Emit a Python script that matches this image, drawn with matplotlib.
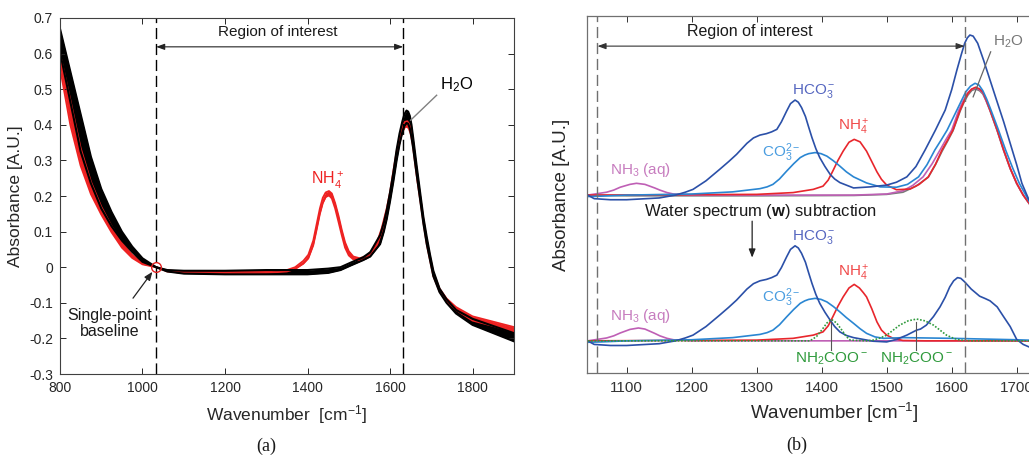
import numpy as np
import matplotlib
matplotlib.use('Agg')
import matplotlib.pyplot as plt

plt.rcParams['font.family'] = ['Liberation Sans', 'DejaVu Sans']
plt.rcParams['mathtext.fontset'] = 'custom'
plt.rcParams['mathtext.rm'] = 'Liberation Sans'
plt.rcParams['mathtext.it'] = 'Liberation Sans:italic'
plt.rcParams['mathtext.bf'] = 'Liberation Sans:bold'
plt.rcParams['mathtext.default'] = 'rm'

# ---------------- (a) raw spectra, single-point baseline at 1033 cm-1 ----------------
wn_a = [800, 825, 850, 875, 900, 925, 950, 975, 1000, 1033, 1060, 1100, 1200, 1300,
        1400, 1450, 1480, 1505, 1535, 1552, 1576, 1585, 1592, 1600, 1608, 1616, 1623, 1630,
        1635, 1640, 1644, 1648, 1652, 1656, 1664, 1673, 1681, 1689, 1697, 1705, 1720, 1737,
        1760, 1800, 1850, 1900]
water_hi = [0.67, 0.55, 0.43, 0.31, 0.22, 0.155, 0.10, 0.058, 0.025, 0.0, -0.008, -0.010,
            -0.010, -0.008, -0.008, -0.004, 0.0, 0.013, 0.028, 0.042, 0.09, 0.125, 0.16,
            0.21, 0.265, 0.33, 0.375, 0.41, 0.43, 0.44, 0.437, 0.425, 0.40, 0.365, 0.29,
            0.21, 0.14, 0.085, 0.035, -0.01, -0.06, -0.09, -0.12, -0.145, -0.165, -0.185]
water_lo = [0.605, 0.465, 0.325, 0.235, 0.165, 0.115, 0.075, 0.043, 0.015, 0.0, -0.012,
            -0.018, -0.020, -0.020, -0.020, -0.016, -0.008, 0.005, 0.02, 0.03, 0.065, 0.10,
            0.135, 0.185, 0.24, 0.30, 0.345, 0.38, 0.397, 0.405, 0.403, 0.39, 0.365, 0.335,
            0.265, 0.19, 0.122, 0.065, 0.02, -0.025, -0.07, -0.10, -0.13, -0.162, -0.185,
            -0.208]

wn_r = [800, 825, 850, 875, 900, 925, 950, 975, 1000, 1033, 1060, 1100, 1200, 1300, 1350,
        1370, 1390, 1402, 1414, 1422, 1430, 1437, 1444, 1452, 1459, 1467, 1475, 1483, 1491,
        1500, 1511, 1527, 1543, 1555, 1568, 1580, 1592, 1600, 1608, 1616, 1623, 1630, 1636,
        1642, 1646, 1650, 1655, 1660, 1666, 1673, 1681, 1689, 1697, 1705, 1720, 1737, 1760,
        1800, 1850, 1900]
nh4_hi = [0.60, 0.47, 0.335, 0.24, 0.17, 0.115, 0.07, 0.035, 0.012, 0.0, -0.009, -0.012,
          -0.014, -0.012, -0.008, 0.0, 0.018, 0.035, 0.075, 0.12, 0.165, 0.195, 0.21, 0.214,
          0.207, 0.18, 0.145, 0.105, 0.07, 0.045, 0.03, 0.025, 0.032, 0.045, 0.068, 0.11,
          0.165, 0.21, 0.27, 0.325, 0.365, 0.395, 0.408, 0.41, 0.403, 0.39, 0.36, 0.315,
          0.26, 0.20, 0.135, 0.075, 0.03, -0.015, -0.06, -0.088, -0.112, -0.138, -0.153,
          -0.168]
nh4_lo = [0.56, 0.40, 0.285, 0.205, 0.148, 0.098, 0.055, 0.026, 0.008, 0.0, -0.012, -0.016,
          -0.018, -0.016, -0.012, -0.005, 0.010, 0.025, 0.062, 0.105, 0.15, 0.18, 0.197,
          0.202, 0.193, 0.165, 0.128, 0.09, 0.055, 0.033, 0.022, 0.018, 0.025, 0.038, 0.06,
          0.10, 0.15, 0.195, 0.25, 0.31, 0.35, 0.38, 0.393, 0.395, 0.388, 0.375, 0.345, 0.30,
          0.245, 0.19, 0.125, 0.065, 0.02, -0.025, -0.068, -0.095, -0.12, -0.15, -0.165,
          -0.182]

roi_a = [1033, 1632]

# ---------------- (b) component spectra, before and after water subtraction ----------------
wn_hco3 = [1040, 1050, 1075, 1100, 1150, 1175, 1190, 1202, 1222, 1243, 1257, 1269, 1285,
           1295, 1305, 1315, 1323, 1331, 1338, 1346, 1352, 1359, 1364, 1369, 1375, 1380,
           1385, 1391, 1397, 1405, 1413, 1420, 1428, 1438, 1449, 1479, 1500, 1515, 1531,
           1546, 1552, 1561, 1572, 1582, 1590, 1597, 1603, 1609, 1614, 1620, 1630, 1643,
           1652, 1659, 1670, 1679, 1690, 1700, 1710, 1719, 1740, 1770, 1800]
hco3_sub = [0.0, -0.010, -0.013, -0.013, -0.008, 0.0, 0.008, 0.016, 0.04, 0.072, 0.094,
            0.114, 0.145, 0.160, 0.168, 0.172, 0.177, 0.184, 0.205, 0.235, 0.256, 0.266,
            0.26, 0.245, 0.22, 0.19, 0.161, 0.13, 0.105, 0.08, 0.058, 0.04, 0.025, 0.015,
            0.009, -0.001, -0.003, 0.004, 0.016, 0.03, 0.033, 0.044, 0.068, 0.095, 0.122,
            0.151, 0.168, 0.177, 0.175, 0.165, 0.145, 0.125, 0.118, 0.112, 0.095, 0.07, 0.04,
            0.004, -0.01, -0.017, -0.03, -0.035, -0.035]

wn_hco3_raw = [1040, 1050, 1075, 1100, 1150, 1175, 1190, 1202, 1222, 1243, 1257, 1269,
               1285, 1295, 1305, 1315, 1323, 1331, 1338, 1346, 1352, 1359, 1364, 1369, 1375,
               1380, 1385, 1391, 1397, 1405, 1413, 1420, 1428, 1449, 1475, 1500, 1515, 1531,
               1545, 1559, 1575, 1590, 1600, 1608, 1615, 1620, 1624, 1628, 1633, 1640, 1649,
               1659, 1669, 1680, 1690, 1700, 1708, 1719, 1740, 1770, 1800]
hco3_raw = [0.0, -0.010, -0.013, -0.013, -0.008, 0.0, 0.008, 0.016, 0.04, 0.072, 0.094,
            0.114, 0.145, 0.160, 0.168, 0.172, 0.177, 0.184, 0.205, 0.235, 0.256, 0.266,
            0.26, 0.245, 0.22, 0.19, 0.161, 0.13, 0.105, 0.08, 0.058, 0.045, 0.035, 0.02,
            0.023, 0.028, 0.036, 0.051, 0.08, 0.126, 0.182, 0.238, 0.295, 0.35, 0.395, 0.425,
            0.44, 0.448, 0.445, 0.425, 0.378, 0.322, 0.266, 0.205, 0.145, 0.085, 0.033,
            -0.014, -0.04, -0.05, -0.055]

wn_co3 = [1040, 1060, 1100, 1200, 1263, 1305, 1316, 1325, 1335, 1346, 1357, 1367, 1374,
          1380, 1390, 1399, 1408, 1418, 1428, 1438, 1449, 1459, 1469, 1482, 1495, 1526, 1600,
          1650, 1700, 1750, 1800]
co3_sub = [-0.004, -0.003, 0.0, 0.003, 0.009, 0.018, 0.023, 0.03, 0.045, 0.067, 0.088,
           0.105, 0.112, 0.116, 0.119, 0.116, 0.109, 0.096, 0.081, 0.065, 0.049, 0.034,
           0.021, 0.011, 0.007, 0.009, 0.007, 0.005, 0.003, 0.0, 0.0]

wn_co3_raw = [1040, 1060, 1100, 1200, 1263, 1305, 1316, 1325, 1335, 1346, 1357, 1367, 1374,
              1380, 1390, 1399, 1408, 1418, 1428, 1438, 1449, 1469, 1490, 1515, 1532, 1549,
              1562, 1574, 1584, 1593, 1608, 1616, 1622, 1629, 1636, 1642, 1648, 1654, 1660,
              1672, 1683, 1694, 1704, 1714, 1720, 1740, 1770, 1800]
co3_raw = [-0.004, -0.003, 0.0, 0.003, 0.009, 0.018, 0.023, 0.03, 0.045, 0.067, 0.088,
           0.105, 0.112, 0.116, 0.119, 0.116, 0.109, 0.096, 0.081, 0.065, 0.051, 0.034,
           0.023, 0.022, 0.03, 0.051, 0.085, 0.126, 0.155, 0.182, 0.238, 0.268, 0.29, 0.305,
           0.313, 0.308, 0.292, 0.268, 0.24, 0.182, 0.126, 0.075, 0.033, 0.0, -0.02, -0.045,
           -0.055, -0.06]

wn_nh4 = [1040, 1300, 1356, 1387, 1402, 1410, 1417, 1425, 1433, 1442, 1450, 1458, 1464,
          1469, 1477, 1485, 1492, 1500, 1510, 1525, 1560, 1800]
nh4_sub = [0.0, 0.002, 0.007, 0.016, 0.025, 0.042, 0.067, 0.097, 0.123, 0.148, 0.158, 0.148,
           0.135, 0.123, 0.09, 0.053, 0.03, 0.016, 0.007, 0.001, 0.0, 0.0]

wn_nh4_raw = [1040, 1300, 1356, 1387, 1402, 1410, 1417, 1425, 1433, 1442, 1450, 1459, 1469,
              1477, 1485, 1492, 1500, 1515, 1536, 1550, 1564, 1575, 1585, 1594, 1602, 1613,
              1619, 1625, 1631, 1637, 1643, 1648, 1653, 1659, 1670, 1680, 1690, 1700, 1710,
              1720, 1740, 1770, 1800]
nh4_raw = [0.0, 0.002, 0.007, 0.016, 0.025, 0.042, 0.067, 0.097, 0.123, 0.148, 0.156, 0.149,
           0.123, 0.094, 0.065, 0.044, 0.028, 0.015, 0.017, 0.03, 0.051, 0.086, 0.126, 0.155,
           0.182, 0.238, 0.263, 0.285, 0.297, 0.302, 0.297, 0.288, 0.267, 0.238, 0.182,
           0.126, 0.075, 0.033, 0.0, -0.025, -0.05, -0.06, -0.065]

wn_nh3 = [1040, 1069, 1080, 1090, 1105, 1118, 1128, 1143, 1151, 1162, 1172, 1200, 1800]
nh3_sub = [0.0, 0.008, 0.014, 0.022, 0.032, 0.036, 0.033, 0.021, 0.014, 0.007, 0.003, 0.0,
           0.0]

wn_nh3_raw = [1040, 1069, 1080, 1090, 1105, 1115, 1128, 1143, 1151, 1162, 1172, 1200, 1450,
              1500, 1525, 1540, 1556, 1570, 1582, 1591, 1600, 1611, 1618, 1624, 1630, 1637,
              1643, 1648, 1653, 1659, 1670, 1680, 1690, 1700, 1710, 1720, 1740, 1770, 1800]
nh3_raw = [0.0, 0.008, 0.014, 0.022, 0.03, 0.033, 0.03, 0.02, 0.014, 0.007, 0.003, 0.0, 0.0,
           0.003, 0.012, 0.027, 0.051, 0.088, 0.126, 0.155, 0.182, 0.238, 0.265, 0.285,
           0.296, 0.3, 0.295, 0.286, 0.264, 0.238, 0.182, 0.126, 0.075, 0.033, 0.0, -0.025,
           -0.05, -0.06, -0.065]

wn_carb = [1040, 1382, 1392, 1400, 1408, 1415, 1423, 1431, 1438, 1444, 1470, 1479, 1490,
           1500, 1510, 1520, 1533, 1546, 1559, 1572, 1582, 1592, 1603, 1613, 1630, 1800]
carb_sub = [0.0, 0.0, 0.012, 0.03, 0.05, 0.06, 0.05, 0.03, 0.012, 0.002, 0.0, 0.002, 0.008,
            0.016, 0.03, 0.044, 0.056, 0.061, 0.056, 0.044, 0.03, 0.016, 0.007, 0.002, 0.0,
            0.0]

wn_w = [1040, 1100, 1300, 1450, 1500, 1525, 1545, 1564, 1575, 1585, 1594, 1602, 1613, 1619,
        1625, 1631, 1637, 1643, 1648, 1653, 1659, 1670, 1680, 1690, 1700, 1710, 1720, 1740,
        1770, 1800]
w_spec = [0.0, -0.002, -0.002, -0.001, 0.002, 0.008, 0.025, 0.05, 0.085, 0.122, 0.152, 0.18,
          0.235, 0.26, 0.28, 0.293, 0.297, 0.292, 0.283, 0.264, 0.236, 0.18, 0.124, 0.074,
          0.032, 0.0, -0.026, -0.05, -0.06, -0.065]

carb_marks = [1415, 1545]
roi_b = [1055, 1620]
upper = 0.408   # vertical offset of the spectra before subtraction

c_hco3, c_co3, c_nh4, c_nh3, c_carb, c_w = '#2b50a8', '#2a86d2', '#e8262c', '#bf5fb5', '#2f9a3c', '#7a7a7a'

fig = plt.figure(figsize=(10.29, 4.58), dpi=100)

# ====================== panel (a) ======================
ax = fig.add_axes([0.0583, 0.1834, 0.441, 0.7773])
ax.fill_between(wn_r, nh4_lo, nh4_hi, color='#ee2222', lw=0)
ax.plot(wn_r, nh4_hi, color='#ee2222', lw=1.3)
ax.plot(wn_r, nh4_lo, color='#ee2222', lw=1.3)
ax.fill_between(wn_a, water_lo, water_hi, color='black', lw=0)
ax.plot(wn_a, water_hi, color='black', lw=1.5)
ax.plot(wn_a, water_lo, color='black', lw=1.5)
for x in roi_a:
    ax.axvline(x, color='black', lw=1.0, ls=(0, (8, 3.5)))
ax.plot([roi_a[0]], [0], 'o', mfc='none', mec='#e02020', ms=7, mew=1.0)

ax.annotate('', xy=(roi_a[0], 0.619), xytext=(roi_a[1], 0.619),
            arrowprops=dict(arrowstyle='<|-|>,head_length=0.5,head_width=0.18', color='#222222', lw=0.8,
                            shrinkA=0, shrinkB=0))
ax.text(1328, 0.66, 'Region of interest', ha='center', va='center', fontsize=11, color='#1a1a1a')
ax.text(1722, 0.512, 'H$_2$O', ha='left', va='center', fontsize=12, color='black')
ax.plot([1650, 1713], [0.413, 0.483], color='#808080', lw=1.0)
ax.text(1448, 0.245, 'NH$_4^+$', ha='center', va='center', fontsize=11.5, color='#ee2222')
ax.text(921, -0.158, 'Single-point\nbaseline', ha='center', va='center', fontsize=11.5,
        color='#1a1a1a', linespacing=1.05)
ax.annotate('', xy=(1024, -0.013), xytext=(977, -0.087),
            arrowprops=dict(arrowstyle='-|>,head_length=0.5,head_width=0.2', color='#222222', lw=0.9,
                            shrinkA=0, shrinkB=0))

ax.set_xlim(800, 1900)
ax.set_ylim(-0.3, 0.7)
ax.set_xticks(range(800, 1801, 200))
ax.set_yticks(np.arange(-0.3, 0.71, 0.1))
ax.set_yticklabels(['-0.3', '-0.2', '-0.1', '0', '0.1', '0.2', '0.3', '0.4', '0.5', '0.6', '0.7'])
ax.tick_params(direction='in', top=True, right=True, length=4, width=0.7,
               labelsize=10, colors='#262626', pad=5)
for s in ax.spines.values():
    s.set_color('#404040')
    s.set_linewidth(0.8)
ax.set_xlabel('Wavenumber  [cm$^{-1}$]', fontsize=12.5, color='#262626', labelpad=6)
ax.set_ylabel('Absorbance [A.U.]', fontsize=12.5, color='#262626', labelpad=4)

# ====================== panel (b) ======================
bx = fig.add_axes([0.5702, 0.1856, 0.481, 0.780])
lw = 1.2
# before subtraction
bx.plot(wn_w, np.array(w_spec) + upper, color=c_w, lw=lw)
bx.plot(wn_nh3_raw, np.array(nh3_raw) + upper, color=c_nh3, lw=lw)
bx.plot(wn_nh4_raw, np.array(nh4_raw) + upper, color=c_nh4, lw=lw)
bx.plot(wn_co3_raw, np.array(co3_raw) + upper, color=c_co3, lw=lw)
bx.plot(wn_hco3_raw, np.array(hco3_raw) + upper, color=c_hco3, lw=lw)
# after subtraction
bx.plot(wn_nh3, nh3_sub, color=c_nh3, lw=lw)
bx.plot(wn_nh4, nh4_sub, color=c_nh4, lw=lw)
bx.plot(wn_co3, co3_sub, color=c_co3, lw=lw)
bx.plot(wn_hco3, hco3_sub, color=c_hco3, lw=lw)
bx.plot(wn_carb, carb_sub, color=c_carb, lw=1.2, ls=(0, (1, 1)))

for x in roi_b:
    bx.axvline(x, color='#707070', lw=1.0, ls=(0, (8, 3.5)))
bx.annotate('', xy=(roi_b[0], 0.825), xytext=(roi_b[1], 0.825),
            arrowprops=dict(arrowstyle='<|-|>,head_length=0.5,head_width=0.18', color='#333333', lw=0.8,
                            shrinkA=0, shrinkB=0))
bx.text(1290, 0.865, 'Region of interest', ha='center', va='center', fontsize=11.5, color='#1a1a1a')
bx.text(1305, 0.361, r'Water spectrum ($\mathbf{w}$) subtraction', ha='center', va='center',
        fontsize=12, color='#1a1a1a')
bx.annotate('', xy=(1293, 0.233), xytext=(1293, 0.335),
            arrowprops=dict(arrowstyle='-|>,head_length=0.5,head_width=0.2', color='#222222', lw=0.9,
                            shrinkA=0, shrinkB=0))

# species labels for both stacks
for base in (upper, 0.0):
    bx.text(1121, base + 0.07, 'NH$_3$ (aq)', ha='center', va='center', fontsize=11, color='#c77cbf')
    bx.text(1338, base + 0.12, 'CO$_3^{2-}$', ha='center', va='center', fontsize=11, color='#4a9de0')
    bx.text(1387, base + 0.292, 'HCO$_3^-$', ha='center', va='center', fontsize=11, color='#5566c0')
    bx.text(1449, base + 0.19, 'NH$_4^+$', ha='center', va='center', fontsize=11, color='#f04a4a')

for x in carb_marks:
    bx.plot([x, x], [-0.026, 0.053], color='#555555', lw=0.8)
    bx.text(x, -0.05, 'NH$_2$COO$^-$', ha='center', va='center', fontsize=11, color=c_carb)

bx.text(1664, upper + 0.429, 'H$_2$O', ha='left', va='center', fontsize=11, color='#777777')
bx.plot([1660, 1633], [upper + 0.401, upper + 0.275], color='#666666', lw=0.9)

bx.set_xlim(1038.5, 1800)
bx.set_ylim(-0.09, 0.91)
bx.set_xticks(range(1100, 1701, 100))
bx.set_yticks([])
bx.tick_params(axis='x', direction='in', top=True, length=4, width=0.7,
               labelsize=11, colors='#333333', pad=6)
for s in bx.spines.values():
    s.set_color('#707070')
    s.set_linewidth(0.9)
bx.set_xlabel('Wavenumber [cm$^{-1}$]', fontsize=13.5, color='#262626', labelpad=4)
bx.set_ylabel('Absorbance [A.U.]', fontsize=13.5, color='#262626', labelpad=12)

fig.text(266 / 1029, 1 - 446 / 458, '(a)', ha='center', va='center', fontsize=13,
         family='Liberation Serif', color='#1a1a1a')
fig.text(797 / 1029, 1 - 445 / 458, '(b)', ha='center', va='center', fontsize=13,
         family='Liberation Serif', color='#1a1a1a')

fig.savefig('out.png', dpi=100)
